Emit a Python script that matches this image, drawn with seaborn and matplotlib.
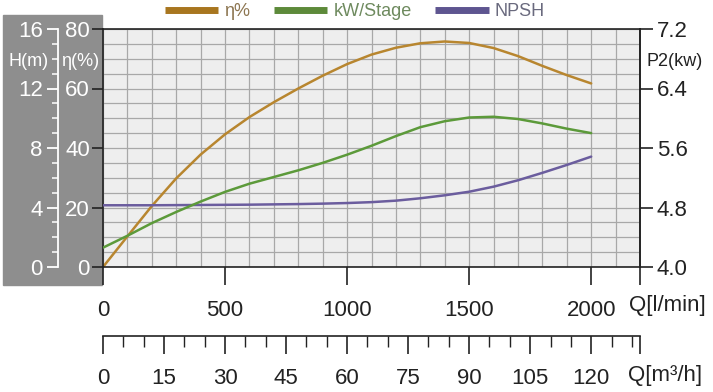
import matplotlib
matplotlib.use("Agg")
import matplotlib.pyplot as plt
import seaborn as sns
import pandas as pd
from matplotlib.patches import Rectangle
from matplotlib.lines import Line2D
from matplotlib.ticker import MultipleLocator

# flow in l/min
q = [0, 100, 200, 300, 400, 500, 600, 700, 800, 900, 1000,
     1100, 1200, 1300, 1400, 1500, 1600, 1700, 1800, 1900, 2000]
# efficiency %
eta = [0, 10.3, 20.5, 29.8, 37.8, 44.6, 50.4, 55.4, 60.0, 64.3, 68.2,
       71.4, 73.7, 75.2, 75.8, 75.3, 73.6, 70.9, 67.6, 64.5, 61.7]
# power per stage kW
kw = [4.26, 4.42, 4.59, 4.74, 4.88, 5.01, 5.12, 5.21, 5.30, 5.40, 5.51,
      5.63, 5.76, 5.88, 5.96, 6.01, 6.02, 5.99, 5.93, 5.86, 5.80]
# NPSH m
npsh = [4.15, 4.15, 4.15, 4.16, 4.17, 4.18, 4.19, 4.21, 4.23, 4.26, 4.30,
        4.36, 4.46, 4.62, 4.82, 5.06, 5.40, 5.83, 6.33, 6.86, 7.42]

q_ticks = [0, 500, 1000, 1500, 2000]
m3h_ticks = [0, 15, 30, 45, 60, 75, 90, 105, 120]
eta_ticks = [0, 20, 40, 60, 80]
h_ticks = [0, 4, 8, 12, 16]
p_ticks = [4.0, 4.8, 5.6, 6.4, 7.2]

df = pd.DataFrame({"q": q, "eta": eta, "kw": kw, "npsh": npsh})

sns.set_theme(style="white")
plt.rcParams["font.family"] = ["Liberation Sans", "DejaVu Sans"]
fs = 16     # tick labels
fs_t = 13   # axis titles

c_eta = "#b8862f"
c_kw = "#5c9a3a"
c_npsh = "#6b5d9e"
dark = "#222222"
W, H = 713, 392

fig = plt.figure(figsize=(7.13, 3.92), dpi=100)
L, R, T, B = 103 / W, 640 / W, 29 / H, 267 / H
ax = fig.add_axes([L, 1 - B, R - L, B - T])
ax.set_facecolor("#eeeeee")

# gray panel behind left scales
fig.patches.append(Rectangle((3 / W, 1 - 285 / H), 99 / W, 270 / H,
                             transform=fig.transFigure, color="#8e8e8e", zorder=-1))

sns.lineplot(data=df, x="q", y="eta", ax=ax, color=c_eta, lw=1.8)
ax.set_xlim(0, 2200)
ax.set_ylim(0, 80)
ax.set_xlabel("")
ax.set_ylabel("")
ax.set_xticks(q_ticks + [2200], [str(v) for v in q_ticks] + [""])
ax.set_yticks(eta_ticks, [str(v) for v in eta_ticks])
ax.xaxis.set_minor_locator(MultipleLocator(100))
ax.yaxis.set_minor_locator(MultipleLocator(5))
ax.grid(which="both", color="#a8a8a8", lw=0.9)
ax.tick_params(which="minor", length=0)
ax.tick_params(axis="x", which="major", length=13, width=1.2, color=dark,
               labelsize=fs, labelcolor=dark, pad=11, direction="out", bottom=True)
ax.tick_params(axis="y", which="major", length=8, width=1.2, color=dark,
               labelsize=fs, labelcolor="white", pad=1.5, direction="out", left=True)
for s in ax.spines.values():
    s.set_color(dark)
    s.set_linewidth(1.2)

# NPSH scale inside the gray panel
ax_h = ax.twinx()
sns.lineplot(data=df, x="q", y="npsh", ax=ax_h, color=c_npsh, lw=1.8)
ax_h.set_ylim(0, 16)
ax_h.set_ylabel("")
ax_h.yaxis.set_ticks_position("left")
ax_h.yaxis.set_label_position("left")
ax_h.spines["left"].set_position(("axes", (58 - 103) / (640 - 103)))
for k in ["right", "top", "bottom"]:
    ax_h.spines[k].set_visible(False)
ax_h.spines["left"].set_color("white")
ax_h.spines["left"].set_linewidth(1.3)
ax_h.set_yticks(h_ticks, [str(v) for v in h_ticks])
ax_h.yaxis.set_minor_locator(MultipleLocator(1))
ax_h.tick_params(axis="y", which="major", length=8, width=1.3, color="white",
                 labelsize=fs, labelcolor="white", pad=3, direction="out")
ax_h.tick_params(axis="y", which="minor", length=4.5, width=1.1, color="white", direction="out")
ax_h.grid(False)

# power scale on the right
ax_p = ax.twinx()
sns.lineplot(data=df, x="q", y="kw", ax=ax_p, color=c_kw, lw=1.8)
ax_p.set_ylim(4.0, 7.2)
ax_p.set_ylabel("")
ax_p.set_yticks(p_ticks, [f"{v:.1f}" for v in p_ticks])
ax_p.tick_params(axis="y", length=9, width=1.2, color=dark, labelsize=fs,
                 labelcolor=dark, pad=3, direction="out", right=True)
for k in ["left", "top", "bottom"]:
    ax_p.spines[k].set_visible(False)
ax_p.spines["right"].set_color(dark)
ax_p.spines["right"].set_linewidth(1.2)
ax_p.grid(False)
ax_p.set_xlim(0, 2200)

# m3/h scale
ax_m = fig.add_axes([L, 1 - 336 / H, R - L, 0.0001])
ax_m.set_facecolor("none")
for k in ["left", "right", "top"]:
    ax_m.spines[k].set_visible(False)
ax_m.spines["bottom"].set_color(dark)
ax_m.spines["bottom"].set_linewidth(1.2)
ax_m.set_xlim(0, 132)
ax_m.set_yticks([])
ax_m.set_xticks(m3h_ticks + [132], [str(v) for v in m3h_ticks] + [""])
ax_m.set_xticks([v for v in range(5, 131, 5) if v % 15 != 0], minor=True)
ax_m.tick_params(axis="x", which="major", length=13, width=1.2, color=dark,
                 labelsize=fs, labelcolor=dark, pad=10, direction="out", bottom=True)
ax_m.tick_params(axis="x", which="minor", length=8, width=1.0, color=dark,
                 direction="out", bottom=True)

# axis titles
fig.text(8 / W, 1 - 62 / H, "H(m)", color="white", fontsize=fs_t, va="center", ha="left")
fig.text(80 / W, 1 - 62 / H, "η(%)", color="white", fontsize=fs_t, va="center", ha="center")
fig.text(647 / W, 1 - 62 / H, "P2(kw)", color=dark, fontsize=fs_t, va="center", ha="left")
fig.text(629 / W, 1 - 306 / H, "Q[l/min]", color=dark, fontsize=fs, va="center", ha="left")
fig.text(628 / W, 1 - 376 / H, "Q[m³/h]", color=dark, fontsize=fs, va="center", ha="left")

handles = [Line2D([], [], color=c, lw=5, solid_capstyle="butt")
           for c in ["#a8761f", "#5d8a3a", "#5e5590"]]
leg = fig.legend(handles, ["η%", "kW/Stage", "NPSH"], loc="center",
                 bbox_to_anchor=(355 / W, 1 - 12 / H), ncol=3, frameon=False,
                 handlelength=2.95, handletextpad=0.35, columnspacing=1.3,
                 fontsize=13, borderaxespad=0, borderpad=0)
for t, c in zip(leg.get_texts(), ["#8c7550", "#6e8a5e", "#6a6a7e"]):
    t.set_color(c)

fig.savefig("out.png", dpi=100)
